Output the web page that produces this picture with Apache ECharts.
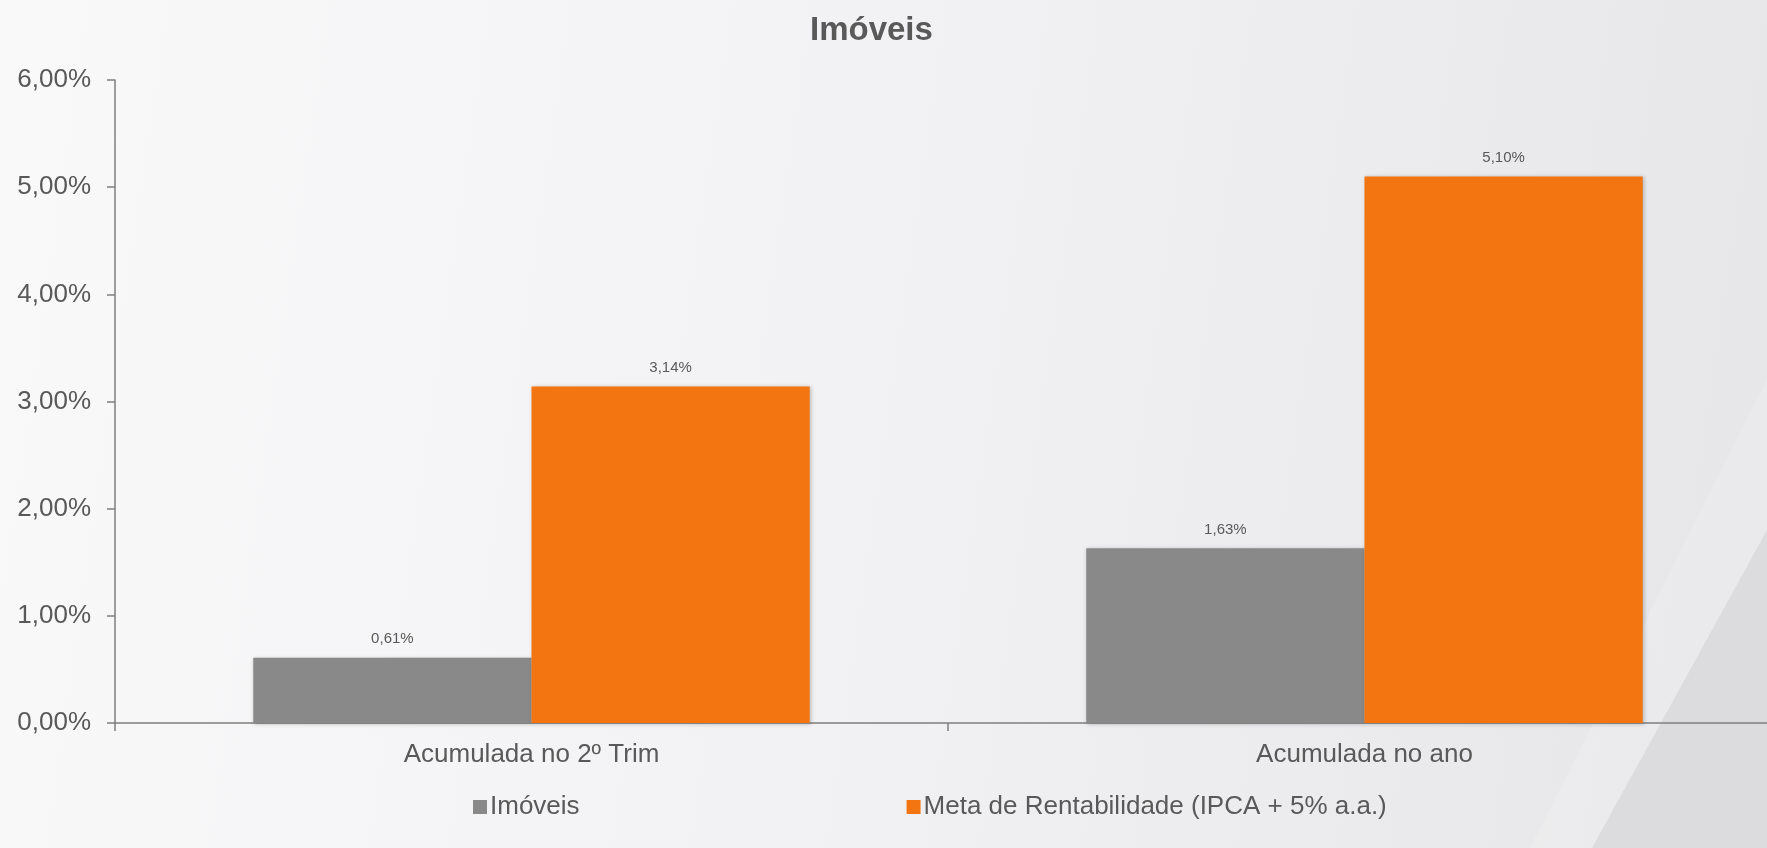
<!DOCTYPE html>
<html>
<head>
<meta charset="utf-8">
<script src="https://cdn.jsdelivr.net/npm/echarts@6/dist/echarts.min.js"></script>
<style>
html,body{margin:0;padding:0;width:1767px;height:848px;overflow:hidden;}
#c{width:1767px;height:848px;}
</style>
</head>
<body>
<div id="c"></div>
<script>
const categories = ['Acumulada no 2º Trim', 'Acumulada no ano'];
const seriesNames = ['Imóveis', 'Meta de Rentabilidade (IPCA + 5% a.a.)'];
const imoveis = [0.61, 1.63];
const meta = [3.14, 5.10];
const yTicks = [0, 1, 2, 3, 4, 5, 6];

const fmt = v => Number(v).toFixed(2).replace('.', ',') + '%';
const font = 'Liberation Sans, Arial, sans-serif';

const chart = echarts.init(document.getElementById('c'));
chart.setOption({
  backgroundColor: {
    type: 'linear', x: 0, y: 0, x2: 1, y2: 0.3,
    colorStops: [
      {offset: 0, color: '#f9f9fa'},
      {offset: 0.5, color: '#f2f2f4'},
      {offset: 1, color: '#e7e7e9'}
    ]
  },
  graphic: [
    {type: 'polygon', silent: true, z: -10,
     shape: {points: [[1767, 380], [1767, 848], [1530, 848]]},
     style: {fill: 'rgba(255,255,255,0.14)'}},
    {type: 'polygon', silent: true, z: -9,
     shape: {points: [[1767, 530], [1767, 848], [1592, 848]]},
     style: {fill: '#dcdcde'}}
  ],
  animation: false,
  title: {
    text: 'Imóveis',
    left: 805, top: 9,
    textStyle: {fontFamily: font, fontSize: 33, fontWeight: 'bold', color: '#595959'}
  },
  legend: {
    data: seriesNames,
    left: 468, top: 789,
    itemWidth: 14, itemHeight: 14, itemGap: 327,
    icon: 'rect',
    textStyle: {fontFamily: font, fontSize: 26, color: '#595959', padding: [0, 0, 0, -2]}
  },
  grid: {left: 115, top: 80, bottom: 125, right: -14, containLabel: false, outerBoundsMode: 'none'},
  xAxis: {
    type: 'category',
    data: categories,
    axisLine: {lineStyle: {color: '#7f7f7f', width: 1.5}},
    axisTick: {show: true, length: 8, lineStyle: {color: '#7f7f7f', width: 1.5}},
    axisLabel: {fontFamily: font, fontSize: 26, color: '#595959', margin: 19}
  },
  yAxis: {
    type: 'value',
    min: yTicks[0], max: yTicks[yTicks.length - 1], interval: 1,
    splitLine: {show: false},
    axisLine: {show: true, lineStyle: {color: '#7f7f7f', width: 1.5}},
    axisTick: {show: true, length: 8, lineStyle: {color: '#7f7f7f', width: 1.5}},
    axisLabel: {fontFamily: font, fontSize: 26, color: '#595959', margin: 24, formatter: fmt}
  },
  series: [
    {
      name: seriesNames[0], type: 'bar', data: imoveis,
      barWidth: '33.4%', barGap: '0%',
      itemStyle: {color: '#898989', shadowColor: 'rgba(0,0,0,0.25)', shadowBlur: 4, shadowOffsetX: 1, shadowOffsetY: 1},
      label: {show: true, position: 'top', distance: 11, fontFamily: font, fontSize: 15, color: '#595959', formatter: p => fmt(p.value)}
    },
    {
      name: seriesNames[1], type: 'bar', data: meta,
      barWidth: '33.4%', barGap: '0%',
      itemStyle: {color: '#f27511', shadowColor: 'rgba(0,0,0,0.25)', shadowBlur: 4, shadowOffsetX: 1, shadowOffsetY: 1},
      label: {show: true, position: 'top', distance: 11, fontFamily: font, fontSize: 15, color: '#595959', formatter: p => fmt(p.value)}
    }
  ]
});
</script>
</body>
</html>
